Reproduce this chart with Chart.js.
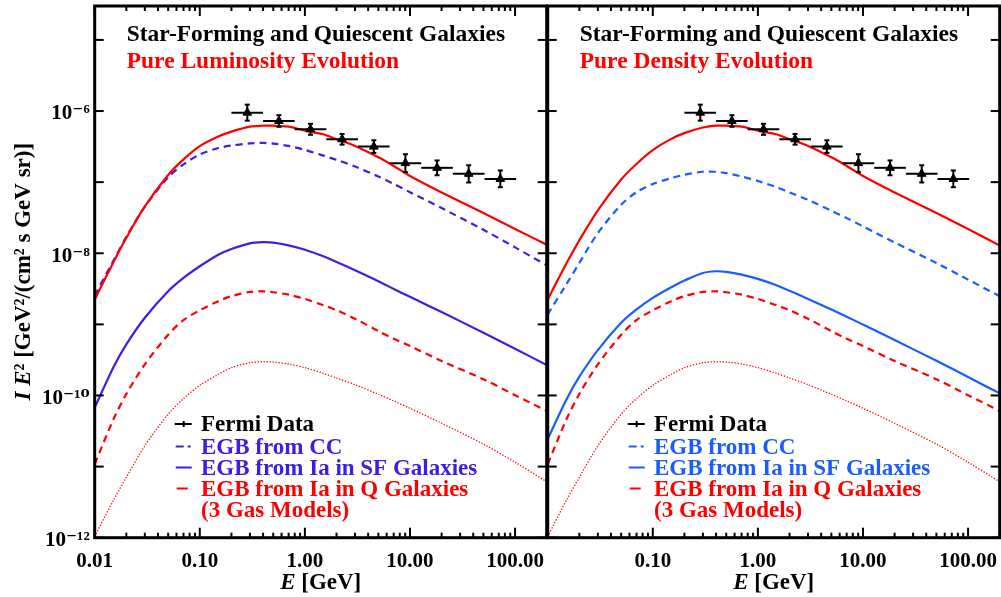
<!DOCTYPE html>
<html><head><meta charset="utf-8">
<script src="https://cdn.jsdelivr.net/npm/chart.js@4.4.1/dist/chart.umd.min.js"></script>
<style>
html,body{margin:0;padding:0;background:#fff;width:1001px;height:597px;overflow:hidden}
canvas{position:absolute;top:0}
#cL{left:0px}
#cR{left:546px}
</style></head><body>
<canvas id="cL" width="548" height="597"></canvas>
<canvas id="cR" width="455" height="597"></canvas>
<script>
// ---------- DATA ----------
const energy = [0.01, 0.015, 0.02, 0.03, 0.05, 0.07, 0.1, 0.15, 0.2, 0.3, 0.4, 0.5, 0.7, 1, 1.5, 2, 3, 5, 7, 10, 20, 50, 100, 200];
// Pure Luminosity Evolution (left panel)
const pleTotal = [2.23e-9, 7.38e-9, 1.65e-8, 4.55e-8, 1.26e-7, 2.09e-7, 3.21e-7, 4.37e-7, 5.13e-7, 6.03e-7, 6.22e-7, 6.22e-7, 6.03e-7, 5.30e-7, 4.71e-7, 4.01e-7, 3.23e-7, 2.24e-7, 1.69e-7, 1.22e-7, 7.16e-8, 3.67e-8, 2.19e-8, 1.32e-8];
const pleCC = [2.54e-9, 7.76e-9, 1.70e-8, 4.52e-8, 1.17e-7, 1.78e-7, 2.45e-7, 3.02e-7, 3.27e-7, 3.51e-7, 3.56e-7, 3.48e-7, 3.23e-7, 2.84e-7, 2.36e-7, 2.06e-7, 1.66e-7, 1.20e-7, 9.46e-8, 7.23e-8, 4.32e-8, 2.14e-8, 1.21e-8, 6.77e-9];
const pleSFIa = [6.76e-11, 2.46e-10, 5.23e-10, 1.24e-9, 2.92e-9, 4.50e-9, 6.56e-9, 9.55e-9, 1.15e-8, 1.38e-8, 1.43e-8, 1.41e-8, 1.29e-8, 1.12e-8, 9.06e-9, 7.54e-9, 5.76e-9, 4.04e-9, 3.15e-9, 2.44e-9, 1.49e-9, 7.62e-10, 4.54e-10, 2.68e-10];
// Pure Density Evolution (right panel)
const pdeTotal = [2.23e-9, 7.10e-9, 1.52e-8, 4.02e-8, 1.09e-7, 1.80e-7, 2.82e-7, 4.06e-7, 4.89e-7, 5.86e-7, 6.22e-7, 6.22e-7, 6.03e-7, 5.30e-7, 4.71e-7, 4.01e-7, 3.23e-7, 2.24e-7, 1.69e-7, 1.22e-7, 7.16e-8, 3.67e-8, 2.19e-8, 1.28e-8];
const pdeCC = [1.38e-9, 3.63e-9, 7.30e-9, 1.92e-8, 4.81e-8, 7.24e-8, 9.44e-8, 1.14e-7, 1.27e-7, 1.40e-7, 1.40e-7, 1.34e-7, 1.20e-7, 1.04e-7, 8.50e-8, 7.16e-8, 5.65e-8, 3.96e-8, 3.12e-8, 2.39e-8, 1.42e-8, 7.30e-9, 4.26e-9, 2.49e-9];
const pdeSFIa = [2.43e-11, 8.65e-11, 1.84e-10, 4.35e-10, 1.05e-9, 1.62e-9, 2.36e-9, 3.33e-9, 4.13e-9, 5.28e-9, 5.58e-9, 5.46e-9, 5.01e-9, 4.36e-9, 3.55e-9, 2.96e-9, 2.28e-9, 1.62e-9, 1.28e-9, 9.97e-10, 6.01e-10, 3.08e-10, 1.82e-10, 1.07e-10];
// Ia in quiescent galaxies (gas models), same in both panels
const qIaGasHigh = [1.08e-11, 4.54e-11, 1.05e-10, 2.74e-10, 7.14e-10, 1.15e-9, 1.58e-9, 2.12e-9, 2.49e-9, 2.86e-9, 2.92e-9, 2.83e-9, 2.62e-9, 2.28e-9, 1.86e-9, 1.58e-9, 1.20e-9, 8.04e-10, 6.28e-10, 4.95e-10, 3.05e-10, 1.69e-10, 1.01e-10, 6.07e-11];
const qIaGasLow = [1.04e-12, 3.32e-12, 7.05e-12, 1.96e-11, 5.45e-11, 9.04e-11, 1.39e-10, 1.98e-10, 2.46e-10, 2.89e-10, 2.99e-10, 2.95e-10, 2.77e-10, 2.46e-10, 2.05e-10, 1.76e-10, 1.42e-10, 1.04e-10, 8.38e-11, 6.61e-11, 4.07e-11, 2.07e-11, 1.15e-11, 6.12e-12];
// Fermi data
const fermiE = [0.283, 0.566, 1.13, 2.26, 4.53, 9.05, 18.1, 36.2, 72.4];
const fermiELo = [0.2, 0.4, 0.8, 1.6, 3.2, 6.4, 12.8, 25.6, 51.2];
const fermiEHi = [0.4, 0.8, 1.6, 3.2, 6.4, 12.8, 25.6, 51.2, 102.4];
const fermiFlux = [9.48e-7, 7.24e-7, 5.54e-7, 4.01e-7, 3.16e-7, 1.85e-7, 1.59e-7, 1.31e-7, 1.11e-7];
const fermiLo = [7.33e-7, 6.00e-7, 4.63e-7, 3.37e-7, 2.58e-7, 1.38e-7, 1.25e-7, 9.90e-8, 8.49e-8];
const fermiHi = [1.23e-6, 8.75e-7, 6.61e-7, 4.76e-7, 3.88e-7, 2.47e-7, 2.02e-7, 1.73e-7, 1.46e-7];
// Ticks
const xTickValues = [0.01, 0.1, 1, 10, 100];
const xTickLabels = ['0.01', '0.10', '1.00', '10.00', '100.00'];
const yTickValues = [1e-12, 1e-10, 1e-8, 1e-6];
const yTickLabels = ['10\u207B\u00B9\u00B2', '10\u207B\u00B9\u2070', '10\u207B\u2078', '10\u207B\u2076'];
// Text
const titleTop = 'Star-Forming and Quiescent Galaxies';
const titleLeft = 'Pure Luminosity Evolution';
const titleRight = 'Pure Density Evolution';

// ---------- STYLE ----------
const FONT = "'Liberation Serif', 'DejaVu Serif', serif";
const RED = '#ff0000';
const BLUE_L = '#3a20e2';
const BLUE_R = '#1a5cff';

function lineDs(label, vals, color, width, dash) {
  return {
    label, data: energy.map((e, i) => ({x: e, y: vals[i]})),
    borderColor: color, backgroundColor: color, borderWidth: width, borderDash: dash,
    pointRadius: 0, tension: 0.3, fill: false
  };
}
function fermiDs() {
  return {
    label: 'Fermi Data', data: fermiE.map((e, i) => ({x: e, y: fermiFlux[i]})),
    showLine: false, pointStyle: 'triangle', pointRadius: 5,
    backgroundColor: '#000', borderColor: '#000', borderWidth: 1
  };
}

function seg(ctx, x0, y0, x1, y1) { ctx.beginPath(); ctx.moveTo(x0, y0); ctx.lineTo(x1, y1); ctx.stroke(); }
function zeroPad(s) { s.paddingTop = 0; s.paddingBottom = 0; s.paddingLeft = 0; s.paddingRight = 0; }

function panelPlugin(p) {
  return {
    id: 'panel',
    afterDatasetsDraw(chart) {
      const ctx = chart.ctx, xs = chart.scales.x, ys = chart.scales.y;
      ctx.save();
      ctx.strokeStyle = '#000'; ctx.lineWidth = 2;
      fermiE.forEach((e, i) => {
        const px = xs.getPixelForValue(e), py = ys.getPixelForValue(fermiFlux[i]);
        const x0 = xs.getPixelForValue(fermiELo[i]), x1 = xs.getPixelForValue(fermiEHi[i]);
        const y0 = ys.getPixelForValue(fermiLo[i]), y1 = ys.getPixelForValue(fermiHi[i]);
        seg(ctx, x0, py, x1, py);
        seg(ctx, px, y0, px, y1);
        seg(ctx, px - 2.5, y0, px + 2.5, y0);
        seg(ctx, px - 2.5, y1, px + 2.5, y1);
      });
      ctx.restore();
    },
    afterDraw(chart) {
      const ctx = chart.ctx, xs = chart.scales.x, ys = chart.scales.y, a = chart.chartArea;
      ctx.save();
      // ticks
      ctx.strokeStyle = '#000'; ctx.lineWidth = 2;
      for (let d = -2; d <= 2; d++) for (let m = 1; m <= 9; m++) {
        const v = m * Math.pow(10, d);
        if (v < 0.0099 || v > 200) continue;
        const px = xs.getPixelForValue(v), L = m === 1 ? 10 : 5;
        seg(ctx, px, a.bottom, px, a.bottom - L);
        seg(ctx, px, a.top, px, a.top + L);
      }
      for (let d = -12; d <= -5; d++) {
        const py = ys.getPixelForValue(Math.pow(10, d));
        seg(ctx, a.left, py, a.left + 9, py);
        seg(ctx, a.right, py, a.right - 9, py);
      }
      // frame
      ctx.lineWidth = 3;
      ctx.strokeRect(a.left, a.top, a.right - a.left, a.bottom - a.top);
      // titles
      ctx.textBaseline = 'alphabetic'; ctx.textAlign = 'left';
      ctx.font = 'bold 23.5px ' + FONT;
      ctx.fillStyle = '#000';
      ctx.fillText(titleTop, a.left + 32, 40.7);
      ctx.fillStyle = RED;
      ctx.fillText(p.subtitle, a.left + 32, 68.3);
      // legend
      ctx.font = 'bold 23px ' + FONT;
      const sx0 = a.left + 81, sx1 = a.left + 97, tx = a.left + 106.3;
      const rows = [
        {text: 'Fermi Data', color: '#000', sym: 'err', base: 431},
        {text: 'EGB from CC', color: p.blue, sym: 'dash', base: 453.5},
        {text: 'EGB from Ia in SF Galaxies', color: p.blue, sym: 'solid', base: 474.5},
        {text: 'EGB from Ia in Q Galaxies', color: RED, sym: 'red', base: 495.5},
        {text: '(3 Gas Models)', color: RED, sym: null, base: 516.5}
      ];
      rows.forEach(r => {
        ctx.fillStyle = r.color; ctx.strokeStyle = r.color;
        ctx.fillText(r.text, tx, r.base);
        const y = r.base - 7;
        ctx.lineWidth = 2;
        if (r.sym === 'err') { seg(ctx, sx0 - 1, y, sx1, y); seg(ctx, (sx0 + sx1) / 2, y - 3, (sx0 + sx1) / 2, y + 3); }
        else if (r.sym === 'dash') { seg(ctx, sx0, y, sx0 + 8, y); seg(ctx, sx0 + 12, y, sx0 + 15, y); }
        else if (r.sym === 'solid') { seg(ctx, sx0, y, sx1, y); }
        else if (r.sym === 'red') { seg(ctx, sx0 + 1, y, sx0 + 12, y); }
      });
      // x-axis title
      ctx.fillStyle = '#000';
      const cx = (a.left + a.right) / 2;
      ctx.font = 'italic bold 23px ' + FONT;
      const wE = ctx.measureText('E').width;
      ctx.font = 'bold 23px ' + FONT;
      const wR = ctx.measureText(' [GeV]').width;
      let x = cx - (wE + wR) / 2;
      ctx.font = 'italic bold 23px ' + FONT; ctx.fillText('E', x, 589);
      ctx.font = 'bold 23px ' + FONT; ctx.fillText(' [GeV]', x + wE, 589);
      // y-axis title
      if (p.yTitle) {
        ctx.translate(29.5, 271.7);
        ctx.rotate(-Math.PI / 2);
        const parts = [['I', true], [' ', false], ['E', true], ['\u00B2 [GeV\u00B2/(cm\u00B2 s GeV sr)]', false]];
        let tot = 0;
        parts.forEach(pt => { ctx.font = (pt[1] ? 'italic ' : '') + 'bold 23px ' + FONT; tot += ctx.measureText(pt[0]).width; });
        let xx = -tot / 2;
        parts.forEach(pt => { ctx.font = (pt[1] ? 'italic ' : '') + 'bold 23px ' + FONT; ctx.fillText(pt[0], xx, 0); xx += ctx.measureText(pt[0]).width; });
      }
      ctx.restore();
    }
  };
}

function makeChart(id, p) {
  return new Chart(document.getElementById(id), {
    type: 'line',
    data: {
      datasets: [
        fermiDs(),
        lineDs('Total', p.total, RED, 2.2, []),
        lineDs('EGB from CC', p.cc, p.blue, 2.2, [7, 5]),
        lineDs('EGB from Ia in SF Galaxies', p.sf, p.blue, 2.2, []),
        lineDs('EGB from Ia in Q Galaxies (gas model A)', qIaGasHigh, RED, 2.2, [7, 5]),
        lineDs('EGB from Ia in Q Galaxies (gas model B)', qIaGasLow, RED, 1.3, [1.3, 1.7])
      ]
    },
    options: {
      responsive: false, animation: false, events: [],
      layout: {padding: p.padding, autoPadding: false},
      scales: {
        x: {
          type: 'logarithmic', min: 0.01, max: 200,
          afterBuildTicks: s => { s.ticks = p.xTicks.map(v => ({value: v})); },
          afterFit: s => { s.height = 597 - 537.7; zeroPad(s); },
          grid: {display: false, drawTicks: false}, border: {display: false},
          ticks: {
            autoSkip: false, maxRotation: 0, minRotation: 0, padding: 11, color: '#000',
            font: {family: FONT, size: 21, weight: 'bold'},
            callback: v => { const i = xTickValues.indexOf(v); return i >= 0 ? xTickLabels[i] : ''; }
          }
        },
        y: {
          type: 'logarithmic', min: 1e-12, max: 3e-5, display: p.yLabels,
          afterBuildTicks: s => { s.ticks = yTickValues.map(v => ({value: v})); },
          afterFit: s => { s.width = p.yLabels ? 94.7 : 0; zeroPad(s); },
          grid: {display: false, drawTicks: false}, border: {display: false},
          ticks: {
            autoSkip: false, padding: 5, color: '#000', labelOffset: 3,
            font: {family: FONT, size: 21, weight: 'bold'},
            callback: v => { const i = yTickValues.indexOf(v); return i >= 0 ? yTickLabels[i] : ''; }
          }
        }
      },
      plugins: {legend: {display: false}, tooltip: {enabled: false}}
    },
    plugins: [panelPlugin(p)]
  });
}

makeChart('cL', {
  total: pleTotal, cc: pleCC, sf: pleSFIa, blue: BLUE_L, subtitle: titleLeft,
  padding: {top: 6, right: 1.3, left: 0, bottom: 0},
  xTicks: [0.01, 0.1, 1, 10, 100], yLabels: true, yTitle: true
});
makeChart('cR', {
  total: pdeTotal, cc: pdeCC, sf: pdeSFIa, blue: BLUE_R, subtitle: titleRight,
  padding: {top: 6, right: 1.3, left: 1.7, bottom: 0},
  xTicks: [0.1, 1, 10, 100], yLabels: false, yTitle: false
});
</script>
</body></html>
